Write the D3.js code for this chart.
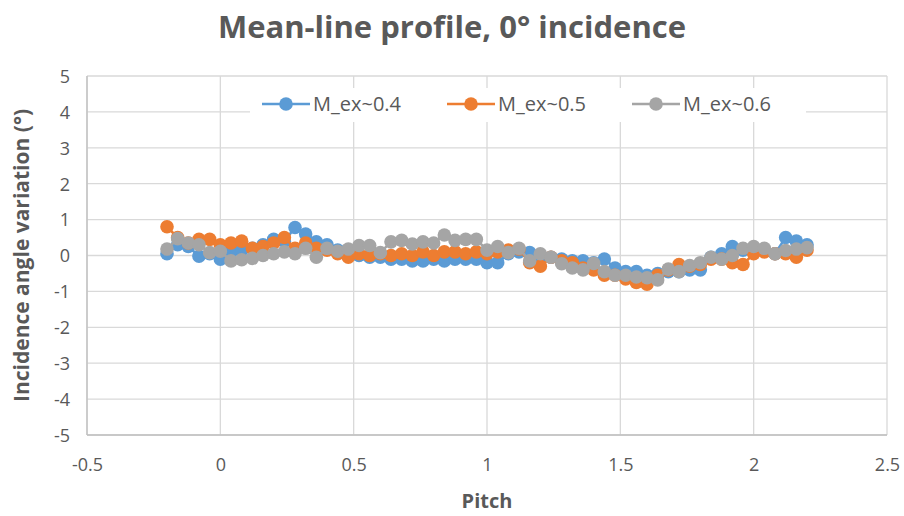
<!DOCTYPE html>
<html>
<head>
<meta charset="utf-8">
<script src="https://cdn.jsdelivr.net/npm/d3@7"></script>
<style>
  html, body { margin: 0; padding: 0; background: #fff; }
  svg { display: block; font-family: "Open Sans", "Noto Sans", "Liberation Sans", sans-serif; }
</style>
</head>
<body>
<svg id="chart" width="904" height="516"></svg>
<script>
// Pitch positions (shared by all three series)
const pitch = [
  -0.20, -0.16, -0.12, -0.08, -0.04, 0.00, 0.04, 0.08, 0.12, 0.16,
   0.20,  0.24,  0.28,  0.32,  0.36, 0.40, 0.44, 0.48, 0.52, 0.56,
   0.60,  0.64,  0.68,  0.72,  0.76, 0.80, 0.84, 0.88, 0.92, 0.96,
   1.00,  1.04,  1.08,  1.12,  1.16, 1.20, 1.24, 1.28, 1.32, 1.36,
   1.40,  1.44,  1.48,  1.52,  1.56, 1.60, 1.64, 1.68, 1.72, 1.76,
   1.80,  1.84,  1.88,  1.92,  1.96, 2.00, 2.04, 2.08, 2.12, 2.16, 2.20
];

// Incidence angle variation (deg) for each exit Mach number
const mex04 = [
   0.05,  0.30,  0.25, -0.02,  0.05, -0.10,  0.10,  0.15,  0.20,  0.30,
   0.45,  0.40,  0.78,  0.60,  0.38,  0.30,  0.15,  0.05,  0.00, -0.05,
  -0.05, -0.10, -0.10, -0.15, -0.15, -0.10, -0.15, -0.10, -0.10, -0.10,
  -0.20, -0.20,  0.05,  0.10,  0.08, -0.10, -0.05, -0.10, -0.15, -0.15,
  -0.20, -0.10, -0.35, -0.45, -0.45, -0.55, -0.50, -0.45, -0.45, -0.40,
  -0.40, -0.05,  0.05,  0.25,  0.15,  0.15,  0.15,  0.05,  0.50,  0.40,  0.30
];
const mex05 = [
   0.80,  0.50,  0.35,  0.45,  0.45,  0.30,  0.35,  0.40,  0.20,  0.25,
   0.35,  0.50,  0.20,  0.35,  0.20,  0.15,  0.05, -0.05,  0.05,  0.00,
   0.05,  0.00,  0.05,  0.00,  0.10,  0.00,  0.10,  0.10,  0.05,  0.10,
   0.05,  0.10,  0.15,  0.18, -0.20, -0.30, -0.05, -0.15, -0.20, -0.35,
  -0.40, -0.55, -0.55, -0.65, -0.75, -0.80, -0.55, -0.40, -0.25, -0.30,
  -0.25, -0.10, -0.10, -0.20, -0.25,  0.05,  0.10,  0.05,  0.05, -0.05,  0.15
];
const mex06 = [
   0.18,  0.47,  0.35,  0.30,  0.08,  0.12, -0.15, -0.12, -0.08,  0.00,
   0.05,  0.10,  0.05,  0.20, -0.05,  0.20,  0.12,  0.18,  0.28,  0.28,
   0.08,  0.38,  0.42,  0.32,  0.38,  0.35,  0.57,  0.42,  0.45,  0.45,
   0.15,  0.25,  0.08,  0.20, -0.15,  0.05, -0.05, -0.23, -0.35, -0.40,
  -0.22, -0.45, -0.55, -0.55, -0.60, -0.62, -0.68, -0.38, -0.45, -0.28,
  -0.20, -0.05, -0.10,  0.00,  0.20,  0.25,  0.20,  0.05,  0.14,  0.18,  0.22
];

const seriesNames = ["M_ex~0.4", "M_ex~0.5", "M_ex~0.6"];
const seriesValues = [mex04, mex05, mex06];
const seriesColors = ["#5B9BD5", "#ED7D31", "#A5A5A5"];

const xTicks = [-0.5, 0, 0.5, 1, 1.5, 2, 2.5];
const yTicks = [-5, -4, -3, -2, -1, 0, 1, 2, 3, 4, 5];

const titleText = "Mean-line profile, 0° incidence";
const xTitle = "Pitch";
const yTitle = "Incidence angle variation (°)";

const svg = d3.select("#chart");
const W = 904, H = 516;
const plot = { left: 87, right: 887, top: 76, bottom: 435 };
const textColor = "#595959";
const fontStack = "'Open Sans', 'Noto Sans', sans-serif";

const x = d3.scaleLinear().domain([-0.5, 2.5]).range([plot.left, plot.right]);
const y = d3.scaleLinear().domain([-5, 5]).range([plot.bottom, plot.top]);

// Plain hyphen-minus for negative tick labels
const fmt = d => String(d);

// Gridlines
const grid = svg.append("g");
grid.selectAll("line.h").data(yTicks).join("line")
  .attr("x1", plot.left).attr("x2", plot.right)
  .attr("y1", d => y(d)).attr("y2", d => y(d))
  .attr("stroke", "#D9D9D9").attr("stroke-width", 1.3);
grid.selectAll("line.v").data(xTicks).join("line")
  .attr("y1", plot.top).attr("y2", plot.bottom)
  .attr("x1", d => x(d)).attr("x2", d => x(d))
  .attr("stroke", "#D9D9D9").attr("stroke-width", 1.3);

// Axis lines
svg.append("line").attr("x1", plot.left).attr("x2", plot.left)
  .attr("y1", plot.top).attr("y2", plot.bottom)
  .attr("stroke", "#BFBFBF").attr("stroke-width", 1.3);
svg.append("line").attr("x1", plot.left).attr("x2", plot.right)
  .attr("y1", plot.bottom).attr("y2", plot.bottom)
  .attr("stroke", "#BFBFBF").attr("stroke-width", 1.3);

// Tick labels via d3 axes
const yAxis = svg.append("g")
  .attr("transform", `translate(${plot.left - 14},0)`)
  .call(d3.axisLeft(y).tickValues(yTicks).tickSize(0).tickFormat(fmt));
const xAxis = svg.append("g")
  .attr("transform", `translate(0,${plot.bottom + 20})`)
  .call(d3.axisBottom(x).tickValues(xTicks).tickSize(0).tickFormat(fmt));
[yAxis, xAxis].forEach(a => {
  a.select(".domain").remove();
  a.selectAll("text").attr("fill", textColor)
    .style("font-size", "18px")
    .style("font-family", fontStack);
});
yAxis.selectAll("text").attr("dy", "0.35em");

// Series: lines then markers, later series on top
const lineGen = d3.line().x((d, i) => x(pitch[i])).y(d => y(d));
seriesValues.forEach((vals, s) => {
  const g = svg.append("g");
  g.append("path").datum(vals)
    .attr("d", lineGen)
    .attr("fill", "none")
    .attr("stroke", seriesColors[s])
    .attr("stroke-width", 2.6)
    .attr("stroke-linejoin", "round");
  g.selectAll("circle").data(vals).join("circle")
    .attr("cx", (d, i) => x(pitch[i]))
    .attr("cy", d => y(d))
    .attr("r", 6.8)
    .attr("fill", seriesColors[s]);
});

// Legend
const legend = svg.append("g");
legend.append("rect").attr("x", 250).attr("y", 88).attr("width", 556).attr("height", 34)
  .attr("fill", "#fff");
const legendX = [262, 447, 632];
seriesNames.forEach((name, s) => {
  const lx = legendX[s], ly = 104;
  legend.append("line").attr("x1", lx).attr("x2", lx + 48)
    .attr("y1", ly).attr("y2", ly)
    .attr("stroke", seriesColors[s]).attr("stroke-width", 2.6);
  legend.append("circle").attr("cx", lx + 24).attr("cy", ly).attr("r", 6.8)
    .attr("fill", seriesColors[s]);
  legend.append("text").attr("x", lx + 51).attr("y", ly).attr("dy", "0.36em")
    .attr("fill", textColor).style("font-size", "20px").text(name);
});

// Titles
svg.append("text").attr("x", W / 2).attr("y", 38)
  .attr("text-anchor", "middle").attr("fill", textColor)
  .style("font-size", "31px").style("font-weight", "bold")
  .text(titleText);
svg.append("text").attr("x", x(1)).attr("y", 508)
  .attr("text-anchor", "middle").attr("fill", textColor)
  .style("font-size", "20px").style("font-weight", "bold")
  .text(xTitle);
svg.append("text")
  .attr("transform", `translate(29,${(plot.top + plot.bottom) / 2}) rotate(-90)`)
  .attr("text-anchor", "middle").attr("fill", textColor)
  .style("font-size", "21px").style("font-weight", "bold")
  .text(yTitle);
</script>
</body>
</html>
